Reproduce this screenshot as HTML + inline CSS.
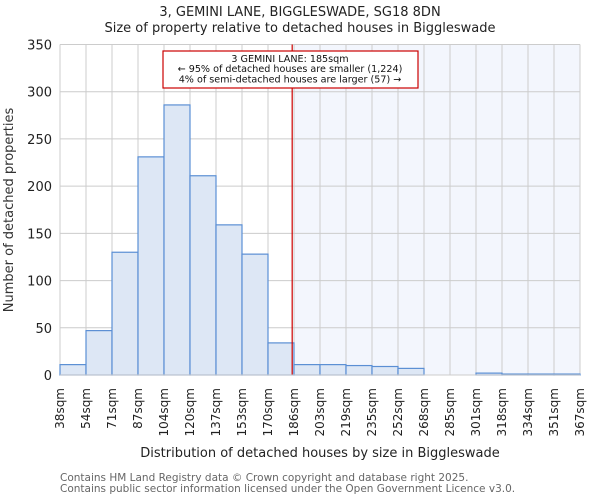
<!DOCTYPE html>
<html><head><meta charset="utf-8"><style>body{margin:0;background:#fff}svg{display:block;font-family:"DejaVu Sans","Liberation Sans",sans-serif}</style></head>
<body>
<svg id="chart" width="600" height="500" viewBox="0 0 600 500">
<text x="300" y="16" text-anchor="middle" font-size="13" fill="#222">3, GEMINI LANE, BIGGLESWADE, SG18 8DN</text>
<text x="300" y="32" text-anchor="middle" font-size="13" fill="#222">Size of property relative to detached houses in Biggleswade</text>
<g id="plot"></g>
<text transform="translate(13,210) rotate(-90)" text-anchor="middle" font-size="13" fill="#333">Number of detached properties</text>
<text x="320" y="457" text-anchor="middle" font-size="13" fill="#222">Distribution of detached houses by size in Biggleswade</text>
<text x="60" y="481" font-size="10.5" fill="#666">Contains HM Land Registry data © Crown copyright and database right 2025.</text>
<text x="60" y="492" font-size="10.5" fill="#666">Contains public sector information licensed under the Open Government Licence v3.0.</text>
</svg>
<script>
const binLabels=["38sqm","54sqm","71sqm","87sqm","104sqm","120sqm","137sqm","153sqm","170sqm","186sqm","203sqm","219sqm","235sqm","252sqm","268sqm","285sqm","301sqm","318sqm","334sqm","351sqm","367sqm"];
const counts=[11,47,130,231,286,211,159,128,34,11,11,10,9,7,0,0,2,1,1,1];
const yTicks=[0,50,100,150,200,250,300,350];
const subjectBin=9;
const subjectOffset=-0.07;
const NS="http://www.w3.org/2000/svg";
const L=60,R=580,T=44.5,B=375,yMax=350;
const n=counts.length,bw=(R-L)/n;
const xs=i=>L+i*bw;
const ys=v=>B-v/yMax*(B-T);
const g=document.getElementById('plot');
function mk(t,a){const e=document.createElementNS(NS,t);for(const k in a)e.setAttribute(k,a[k]);g.appendChild(e);return e;}
let e;
e=mk('rect',{x:xs(subjectBin),y:T,width:R-xs(subjectBin),height:B-T,fill:'#f3f6fd'});


yTicks.forEach(v=>{
 e=mk('line',{x1:L,x2:R,y1:ys(v),y2:ys(v),stroke:'#ccc','stroke-width':1});
 
 
 e=mk('text',{x:L-8,y:ys(v)+5,'text-anchor':'end','font-size':13,fill:'#222'});
 e.textContent=v;
 
 
});
binLabels.forEach((lab,i)=>{
 e=mk('line',{x1:xs(i),x2:xs(i),y1:T,y2:B,stroke:'#ccc','stroke-width':1});
 
 
 e=mk('text',{transform:`translate(${xs(i)+4},388) rotate(-90)`,'text-anchor':'end','font-size':12,fill:'#222'});
 e.textContent=lab;
 
 
});
counts.forEach((v,i)=>{
 e=mk('rect',{x:xs(i),y:ys(v),width:bw,height:B-ys(v),fill:'#dde7f5',stroke:'#5b8fd4','stroke-width':1.2});
 
 
});
const rx=xs(subjectBin+subjectOffset);
e=mk('line',{x1:rx,x2:rx,y1:T,y2:B,stroke:'#cc0000','stroke-width':1.2});


e=mk('rect',{x:163,y:51,width:255,height:37,fill:'#fff',stroke:'#cc0000','stroke-width':1.2});


["3 GEMINI LANE: 185sqm","← 95% of detached houses are smaller (1,224)","4% of semi-detached houses are larger (57) →"].forEach((t,i)=>{
 e=mk('text',{x:290,y:62+i*10.2,'text-anchor':'middle','font-size':9.6,fill:'#111'});
 e.textContent=t;
 
 
});
e=mk('line',{x1:L,x2:R,y1:B,y2:B,stroke:'#ccc','stroke-width':1});


</script>
</body></html>
